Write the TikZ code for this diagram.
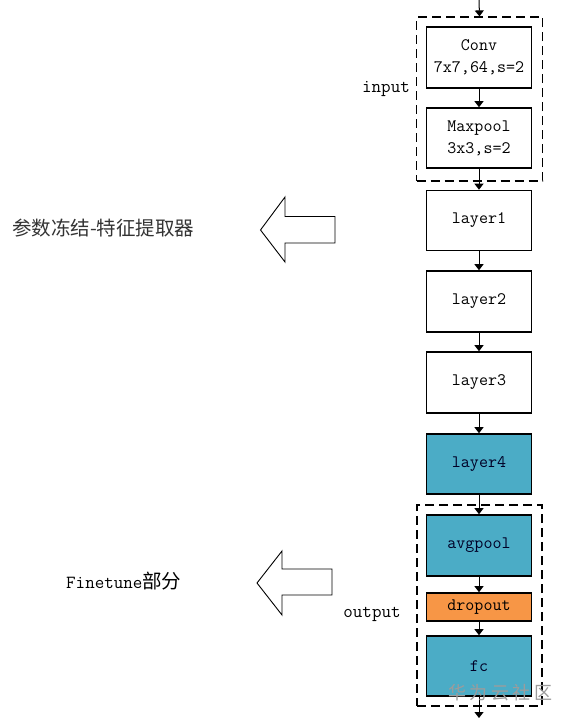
\documentclass[tikz,border=0pt]{standalone}
\usepackage{fontspec}
\newfontfamily\cjk{Noto Sans CJK SC}
\usetikzlibrary{arrows.meta}
\definecolor{teal}{HTML}{4BACC6}
\definecolor{orng}{HTML}{F79646}
\definecolor{wm}{HTML}{9C9C9C}
\begin{document}
\begin{tikzpicture}[x=1pt,y=-1pt,
  blk/.style={draw=black,line width=1.6pt,minimum width=105pt,minimum height=60pt,inner sep=0pt,
    font=\fontsize{17.5}{22}\selectfont\ttfamily,align=center},
  tealbox/.style={blk,fill=teal,text=black!85!blue},
  dashbox/.style={draw=black,line width=1.2pt,dash pattern=on 9pt off 5pt,minimum width=126pt,inner sep=0pt},
  arr/.style={line width=1pt,-{Triangle[width=9pt,length=6pt]}},
  lbl/.style={font=\fontsize{18.5}{20}\selectfont\ttfamily,inner sep=0pt},
  barrow/.style={draw=black,line width=0.9pt,fill=white,line join=miter}
]
\useasboundingbox (0,0) rectangle (570,720);
% dashed groups
\node[dashbox,minimum height=164pt] (inbox) at (479.5,99) {};
\node[dashbox,minimum height=201pt,minimum width=125pt] (outbox) at (479.5,605.5) {};
% blocks
\node[blk,minimum height=61pt] (conv) at (479,57.5) {Conv\\7x7,64,s=2};
\node[blk] (maxpool) at (479,138) {Maxpool\\3x3,s=2};
\node[blk] (layer1) at (479,220.5) {\raisebox{-2pt}{layer1}};
\node[blk,minimum height=61pt] (layer2) at (479,301.5) {\raisebox{-2pt}{layer2}};
\node[blk,minimum height=61pt] (layer3) at (479,382.5) {\raisebox{-2pt}{layer3}};
\node[tealbox] (layer4) at (479,464) {\raisebox{-2pt}{layer4}};
\node[tealbox,minimum height=61pt] (avgpool) at (479,545.5) {avgpool};
\node[blk,fill=orng,minimum height=28pt] (dropout) at (479,607) {dropout};
\node[tealbox] (fc) at (479,666) {fc};
% connectors
\coordinate (top) at (479,0);
\coordinate (bot) at (479,718);
\draw[arr] (top) -- (inbox.north);
\draw[arr] (conv) -- (maxpool);
\draw[arr] (maxpool) -- (layer1);
\draw[arr] (layer1) -- (layer2);
\draw[arr] (layer2) -- (layer3);
\draw[arr] (layer3) -- (layer4);
\draw[arr] (layer4) -- (avgpool);
\draw[arr] (avgpool) -- (dropout);
\draw[arr] (dropout) -- (fc);
\draw[arr] (fc) -- (bot);
% labels
\node[lbl] (inlbl) at (386,89) {input};
\node[lbl] (outlbl) at (372,614) {output};
% block arrows
\draw[barrow] (260.5,230) -- (285,197) -- (285,216.5) -- (335,216.5) -- (335,243) -- (285,243) -- (285,262) -- cycle;
\draw[barrow] (257,583) -- (282,551) -- (282,569) -- (332,569) -- (332,595) -- (282,595) -- (282,615) -- cycle;
% texts
\node[anchor=west,inner sep=0pt,font=\fontsize{19.5}{22}\selectfont\cjk\color{black!80}] (frz) at (12,228) {参数冻结-特征提取器};
\node[anchor=west,inner sep=0pt] (ft) at (66,581) {\fontsize{18.5}{22}\selectfont\ttfamily Finetune\cjk\fontsize{19.5}{22}\selectfont 部分};
% watermark
\node[anchor=west,inner sep=0pt,text=wm,font=\fontsize{18}{20}\selectfont\cjk] (wmk) at (448,693) {华\hspace{3.5pt}为\hspace{3.5pt}云\hspace{3.5pt}社\hspace{3.5pt}区};
\end{tikzpicture}
\end{document}
